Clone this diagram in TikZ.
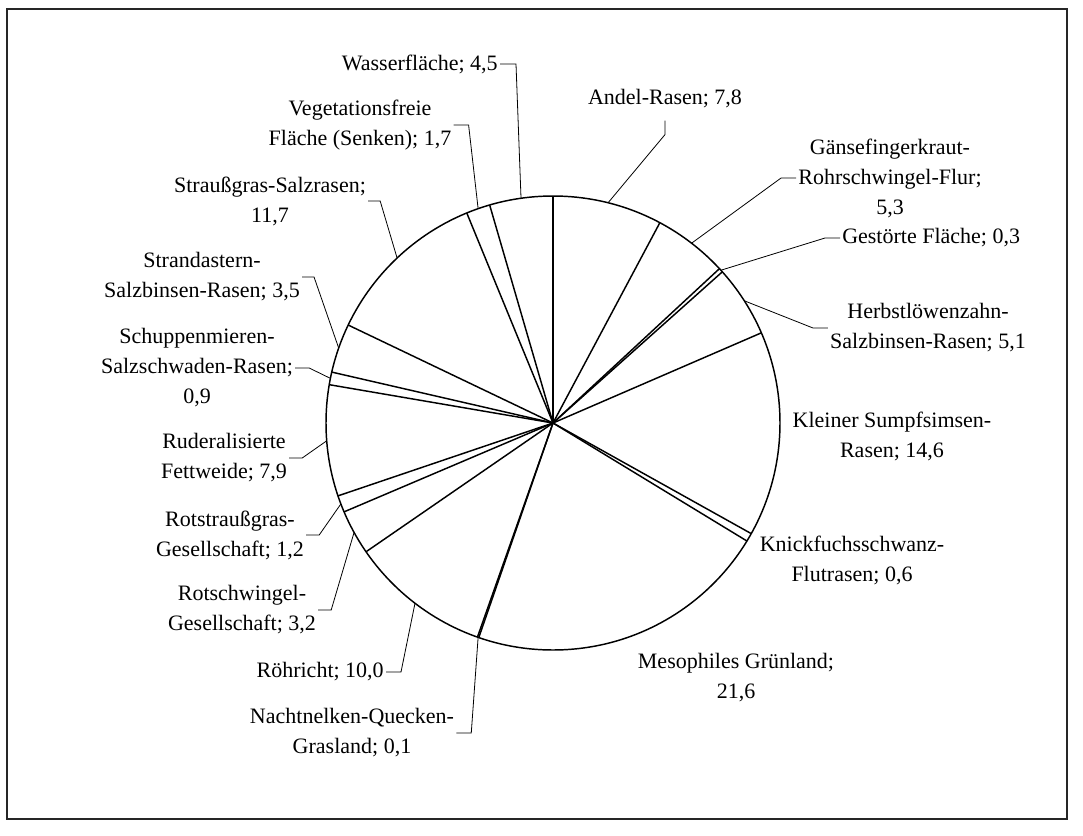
\documentclass[tikz,border=0pt]{standalone}
\usepackage{fontspec}
\setmainfont{Liberation Serif}
\usepackage{tikz}
\usetikzlibrary{positioning}
\tikzstyle{lbl} = [font=\fontsize{16.5}{22.5}\selectfont, align=center, inner sep=1.5pt]
\tikzstyle{leader} = [line width=0.6pt]
\tikzstyle{slice} = [line width=1.1pt]
\begin{document}
\begin{tikzpicture}[x=0.75pt, y=-0.75pt]
    \useasboundingbox (0,0) rectangle (1083,836);
    \draw[line width=1.1pt, black!85] (7,9) rectangle (1067,819);

    \coordinate (c) at (553,423);
    \foreach \p in {0,7.8,13.1,13.4,18.5,33.1,33.7,55.3,55.4,65.4,68.6,69.8,77.7,78.6,82.1,93.8,95.5}
        \draw[slice] (c) -- ++({3.6*\p-90}:227);
    \draw[slice] (c) circle[radius=227];
    \foreach \n/\m in {andel/3.9, gaense/10.45, gestoert/13.25, herbst/15.95, nacht/55.35, roehr/60.4, rotschw/67, rotstr/69.2, ruder/73.75, schupp/78.15, strand/80.35, strauss/87.95, veget/94.65, wasser/97.75}
        \path (c) ++({3.6*\m-90}:227) coordinate (\n-p);

    \node (wasser)   [lbl, anchor=east] at (500,64)  {Wasserfläche; 4,5};
    \node (veget)    [lbl] at (360,125) {Vegetationsfreie\\Fläche (Senken); 1,7};
    \node (strauss)  [lbl] at (270,201) {Straußgras-Salzrasen;\\11,7};
    \node (strand)   [lbl] at (202,277) {Strandastern-\\Salzbinsen-Rasen; 3,5};
    \node (schupp)   [lbl] at (197,368) {Schuppenmieren-\\Salzschwaden-Rasen;\\0,9};
    \node (ruder)    [lbl] at (224,458) {Ruderalisierte\\Fettweide; 7,9};
    \node (rotstr)   [lbl] at (230,535) {Rotstraußgras-\\Gesellschaft; 1,2};
    \node (rotschw)  [lbl] at (242,610) {Rotschwingel-\\Gesellschaft; 3,2};
    \node (roehr)    [lbl, anchor=east] at (386,672) {Röhricht; 10,0};
    \node (nacht)    [lbl] at (352,733) {Nachtnelken-Quecken-\\Grasland; 0,1};
    \node (andel)    [lbl] at (665,99)  {Andel-Rasen; 7,8};
    \node (gaense)   [lbl] at (890,178) {Gänsefingerkraut-\\Rohrschwingel-Flur;\\5,3};
    \node (gestoert) [lbl, anchor=west] at (840,238) {Gestörte Fläche; 0,3};
    \node (herbst)   [lbl] at (928,328) {Herbstlöwenzahn-\\Salzbinsen-Rasen; 5,1};
    \node (klein)    [lbl] at (892,436) {Kleiner Sumpfsimsen-\\Rasen; 14,6};
    \node (knick)    [lbl] at (852,560) {Knickfuchsschwanz-\\Flutrasen; 0,6};
    \node (meso)     [lbl] at (736,678) {Mesophiles Grünland;\\21,6};

    \draw[leader] (wasser.east)  -- ++(16,0) -- (wasser-p);
    \draw[leader] (veget.east)   -- ++(15,0) -- (veget-p);
    \draw[leader] (strauss.east) -- ++(12,0) -- (strauss-p);
    \draw[leader] (strand.east)  -- ++(12,0) -- (strand-p);
    \draw[leader] (schupp.east)  -- ++(14,0) -- (schupp-p);
    \draw[leader] (ruder.east)   -- ++(13,0) -- (ruder-p);
    \draw[leader] (rotstr.east)  -- ++(13,0) -- (rotstr-p);
    \draw[leader] (rotschw.east) -- ++(13,0) -- (rotschw-p);
    \draw[leader] (roehr.east)   -- ++(15,0) -- (roehr-p);
    \draw[leader] (nacht.east)   -- ++(15,0) -- (nacht-p);
    \draw[leader] ([yshift=-7.5pt]andel.south) -- ++(0,14) -- (andel-p);
    \draw[leader] (gaense.west)   -- ++(-15,0) -- (gaense-p);
    \draw[leader] (gestoert.west) -- ++(-15,0) -- (gestoert-p);
    \draw[leader] (herbst.west)   -- ++(-15,0) -- (herbst-p);
\end{tikzpicture}
\end{document}
